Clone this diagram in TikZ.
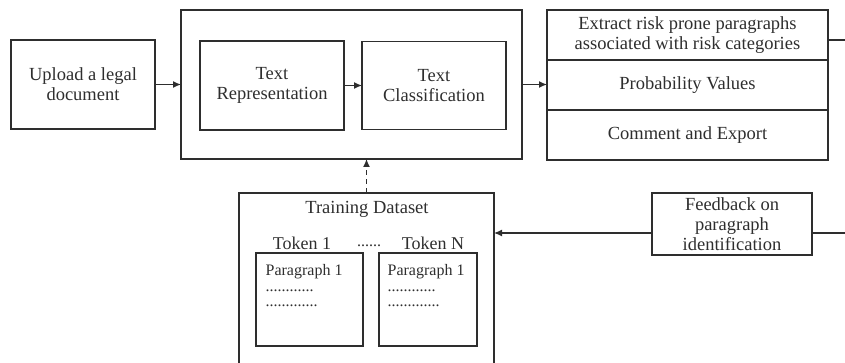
\documentclass[tikz,border=0pt]{standalone}
\usepackage{fontspec}
\setmainfont{Liberation Serif}
\usetikzlibrary{arrows.meta,positioning}

\begin{document}
\begin{tikzpicture}[x=1pt,y=-1pt,>={Latex[length=8pt,width=7pt]},
    line width=1.3pt,color=black!82,font=\fontsize{18.5}{20}\selectfont,
    box/.style={rectangle,draw,inner sep=0pt,outer sep=0pt,align=center},
    label text/.style={inner sep=0pt,align=center},
    para text/.style={inner sep=0pt,align=left,anchor=north west,
        font=\fontsize{16}{15.5}\selectfont}]

    \useasboundingbox (0,0) rectangle (845,363);
    \clip (0,0) rectangle (845,363);

    \node[box,minimum width=144pt,minimum height=89pt] (upload) at (83,84.5) {Upload a legal\\document};
    \node[box,minimum width=341pt,minimum height=149pt] (system) at (351.5,84.5) {};
    \node[box,minimum width=144pt,minimum height=89pt] (rep) at (272,85.5) {Text\\Representation};
    \node[box,minimum width=144pt,minimum height=88pt,right=18pt of rep] (cls) {Text\\Classification};

    % output panel
    \node[box,minimum width=281pt,minimum height=50pt] (extract) at (687.5,35) {Extract risk prone paragraphs\\associated with risk categories};
    \node[box,minimum width=281pt,minimum height=50pt,below=0pt of extract] (prob) {Probability Values};
    \node[box,minimum width=281pt,minimum height=50pt,below=0pt of prob] (export) {Comment and Export};

    % training data
    \node[box,minimum width=255pt,minimum height=220pt,anchor=north] (train) at (366.5,193) {};
    \node[label text] (traintitle) at (367,209) {Training Dataset};
    \node[box,minimum width=107pt,minimum height=93pt] (para1) at (309.5,299.5) {};
    \node[box,minimum width=98pt,minimum height=93pt] (para2) at (428,299.5) {};
    \node[label text,font=\fontsize{18}{20}\selectfont] (tok1) at (302,243) {Token 1};
    \node[label text,font=\fontsize{16}{18}\selectfont] (tokdots) at (369,246) {......};
    \node[label text,font=\fontsize{18}{20}\selectfont] (tokN) at (433,243) {Token N};
    \node[para text] (p1text) at (265,264) {Paragraph 1\\............\\.............};
    \node[para text] (p2text) at (387,264) {Paragraph 1\\............\\.............};

    \node[box,minimum width=160pt,minimum height=62pt] (feedback) at (732,224) {Feedback on\\paragraph\\identification};

    \coordinate (exit top) at (845,40);
    \coordinate (exit fb) at (845,233);

    \draw[->] (upload) -- (system);
    \draw[->] (rep) -- (cls);
    \draw[->] (system.east) -- (system.east -| prob.west);
    \draw (extract.east |- exit top) -- (exit top);
    \draw[->,dash pattern=on 5pt off 4pt] (train.north) -- (train.north |- system.south);
    \draw (feedback.east |- exit fb) -- (exit fb);
    \draw[->] (feedback.west |- exit fb) -- (train.east |- exit fb);
\end{tikzpicture}
\end{document}
